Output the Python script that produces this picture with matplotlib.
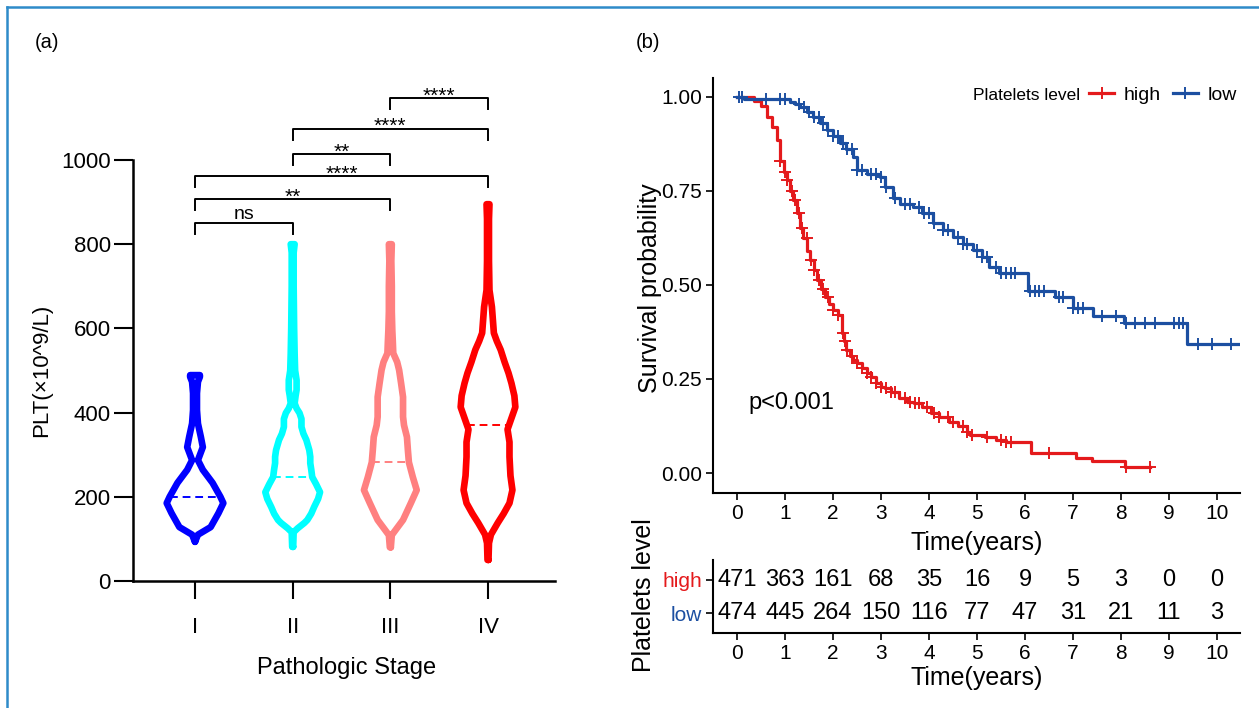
import numpy as np
import matplotlib
matplotlib.use('Agg')
import matplotlib.pyplot as plt
from matplotlib.lines import Line2D

plt.rcParams['font.family'] = ['Liberation Sans', 'DejaVu Sans']

# ---- panel (a): violin outlines (value, half width)
stages = ['I', 'II', 'III', 'IV']
stage_colors = ['#0000FF', '#00FFFF', '#FF8080', '#FF0000']

v1_y = [93, 110, 128, 161, 185, 200, 233, 264, 287, 318, 342, 374, 406, 446, 473, 485, 489]
v1_w = [0.0, 0.03, 0.16, 0.24, 0.29, 0.26, 0.18, 0.08, 0.03, 0.08, 0.06, 0.03, 0.02, 0.02, 0.03, 0.05, 0.05]
v2_y = [81, 116, 125, 138, 145, 160, 176, 195, 211, 230, 247, 265, 280, 295, 311, 335, 350, 366,
        385, 399, 410, 422, 440, 454, 477, 500, 540, 600, 700, 780, 800]
v2_w = [0.005, 0.01, 0.05, 0.12, 0.15, 0.19, 0.22, 0.26, 0.28, 0.24, 0.20, 0.19, 0.18, 0.18, 0.17,
        0.14, 0.11, 0.09, 0.09, 0.07, 0.04, 0.02, 0.03, 0.04, 0.04, 0.025, 0.02, 0.015, 0.01, 0.01, 0.02]
v3_y = [80, 109, 120, 145, 185, 216, 247, 282, 310, 342, 370, 390, 415, 437, 470, 501, 520, 541,
        570, 596, 640, 700, 760, 800]
v3_w = [0.005, 0.015, 0.05, 0.13, 0.21, 0.27, 0.23, 0.19, 0.18, 0.17, 0.14, 0.13, 0.13, 0.13, 0.11,
        0.09, 0.07, 0.03, 0.025, 0.02, 0.015, 0.015, 0.01, 0.015]
v4_y = [50, 90, 110, 138, 160, 185, 216, 250, 295, 330, 360, 380, 413, 440, 470, 494, 520, 549,
        570, 589, 620, 651, 691, 760, 860, 895]
v4_w = [0.005, 0.01, 0.03, 0.10, 0.16, 0.22, 0.25, 0.23, 0.22, 0.22, 0.20, 0.23, 0.28, 0.27, 0.24,
        0.21, 0.17, 0.13, 0.09, 0.06, 0.05, 0.04, 0.015, 0.01, 0.01, 0.015]
medians = [200, 247, 282, 371]

# pairwise comparisons: (group a, group b, label, bracket height)
comparisons = [(1, 2, 'ns', 850), (1, 3, '**', 907), (1, 4, '****', 962),
               (2, 3, '**', 1014), (2, 4, '****', 1074), (3, 4, '****', 1147)]

# ---- panel (b): Kaplan-Meier steps
high_t = [0, 0.35, 0.5, 0.62, 0.73, 0.83, 0.9, 0.97, 1.04, 1.1, 1.17, 1.24, 1.31, 1.38, 1.46, 1.52,
          1.6, 1.67, 1.75, 1.83, 1.92, 2.0, 2.1, 2.19, 2.23, 2.27, 2.35, 2.42, 2.5, 2.6, 2.7, 2.79,
          2.9, 3.0, 3.08, 3.2, 3.38, 3.55, 3.69, 3.85, 4.04, 4.2, 4.42, 4.6, 4.79, 4.85, 5.17, 5.4,
          5.6, 6.13, 7.06, 7.4, 8.08, 8.6]
high_s = [1.0, 0.99, 0.975, 0.947, 0.92, 0.886, 0.83, 0.8, 0.78, 0.75, 0.726, 0.69, 0.65, 0.625,
          0.59, 0.566, 0.54, 0.513, 0.49, 0.468, 0.45, 0.434, 0.42, 0.372, 0.35, 0.327, 0.31, 0.3,
          0.293, 0.28, 0.265, 0.255, 0.24, 0.23, 0.226, 0.215, 0.2, 0.19, 0.186, 0.175, 0.16, 0.15,
          0.136, 0.125, 0.11, 0.1, 0.096, 0.088, 0.082, 0.053, 0.04, 0.032, 0.016, 0.016]
low_t = [0, 0.15, 1.1, 1.2, 1.31, 1.45, 1.58, 1.72, 1.88, 2.0, 2.15, 2.28, 2.42, 2.5, 2.7, 2.98,
         3.08, 3.25, 3.4, 3.67, 3.85, 4.08, 4.3, 4.5, 4.7, 4.92, 5.1, 5.25, 5.46, 6.06, 6.63, 7.0,
         7.42, 8.06, 9.38, 10.45]
low_s = [1.0, 0.995, 0.985, 0.98, 0.973, 0.96, 0.947, 0.93, 0.912, 0.895, 0.878, 0.86, 0.84, 0.806,
         0.795, 0.787, 0.76, 0.73, 0.715, 0.707, 0.69, 0.665, 0.645, 0.628, 0.61, 0.593, 0.575,
         0.548, 0.532, 0.484, 0.468, 0.44, 0.418, 0.4, 0.343, 0.343]
high_cens = [0.9, 1.0, 1.05, 1.15, 1.2, 1.3, 1.35, 1.45, 1.55, 1.6, 1.7, 1.8, 1.9, 2.0, 2.1, 2.2,
             2.25, 2.3, 2.4, 2.5, 2.6, 2.7, 2.8, 2.9, 3.0, 3.1, 3.2, 3.3, 3.5, 3.6, 3.7, 3.8, 3.95,
             4.1, 4.2, 4.4, 4.5, 4.7, 4.8, 4.9, 5.2, 5.5, 5.6, 5.7, 6.5, 8.1, 8.6]
low_cens = [0.05, 0.1, 0.6, 0.9, 1.0, 1.3, 1.4, 1.5, 1.6, 1.7, 1.8, 1.9, 2.0, 2.1, 2.2, 2.3, 2.4,
            2.5, 2.6, 2.8, 2.9, 3.0, 3.1, 3.3, 3.5, 3.6, 3.8, 3.9, 4.0, 4.1, 4.3, 4.4, 4.6, 4.7,
            4.8, 5.0, 5.1, 5.2, 5.4, 5.5, 5.6, 5.7, 5.8, 6.1, 6.2, 6.3, 6.4, 6.7, 6.8, 7.0, 7.1,
            7.2, 7.6, 7.9, 8.1, 8.3, 8.5, 8.7, 9.1, 9.2, 9.3, 9.6, 9.9, 10.3]
risk_times = list(range(11))
high_risk = [471, 363, 161, 68, 35, 16, 9, 5, 3, 0, 0]
low_risk = [474, 445, 264, 150, 116, 77, 47, 31, 21, 11, 3]
km_red = '#E41A1C'
km_blue = '#1C4FA1'

W, H = 1259, 708
fig = plt.figure(figsize=(W / 100, H / 100), dpi=100)


def fx(px):
    return px / W


def fy(py):
    return 1 - py / H


# frame lines (top and left only are visible in the picture)
fig.add_artist(Line2D([fx(7), 1.0], [fy(7), fy(7)], transform=fig.transFigure,
                      color='#2E8BC9', lw=1.8))
fig.add_artist(Line2D([fx(7), fx(7)], [0.0, fy(7)], transform=fig.transFigure,
                      color='#2E8BC9', lw=1.8))

# ================= (a) =================
ax1 = fig.add_axes([fx(133), fy(581), fx(555) - fx(133), fy(160) - fy(581)])
ax1.set_xlim(0.365, 4.686)
ax1.set_ylim(0, 1000)
profiles = [(v1_y, v1_w), (v2_y, v2_w), (v3_y, v3_w), (v4_y, v4_w)]
for pos, (ys, ws), col, med in zip(range(1, 5), profiles, stage_colors, medians):
    ys = np.array(ys, float)
    ws = np.array(ws, float)
    xs = np.concatenate([pos + ws, (pos - ws)[::-1], [pos + ws[0]]])
    yy = np.concatenate([ys, ys[::-1], [ys[0]]])
    ax1.plot(xs, yy, color=col, lw=4.8, solid_joinstyle='round', solid_capstyle='round', zorder=3)
    mw = np.interp(med, ys, ws)
    ax1.plot([pos - mw, pos + mw], [med, med], color=col, lw=1.4, ls=(0, (4, 2.5)), zorder=2)

for a, b, lab, h in comparisons:
    ax1.plot([a, a, b, b], [h - 26, h, h, h - 26], color='black', lw=1.4, clip_on=False)
    if lab == 'ns':
        ax1.text((a + b) / 2, h + 11, lab, ha='center', va='baseline', fontsize=14)
    else:
        ax1.text((a + b) / 2, h - 8, lab, ha='center', va='baseline', fontsize=15)

for s in ['top', 'right']:
    ax1.spines[s].set_visible(False)
for s in ['left', 'bottom']:
    ax1.spines[s].set_linewidth(1.8)
ax1.set_yticks([0, 200, 400, 600, 800, 1000])
ax1.set_xticks([1, 2, 3, 4])
ax1.set_xticklabels(stages)
ax1.tick_params(axis='y', length=14, width=1.5, labelsize=16, pad=2)
ax1.tick_params(axis='x', length=13, width=1.5, labelsize=16, pad=13)
ax1.set_xlabel('Pathologic Stage', fontsize=17)
ax1.xaxis.label.set_va('center')
ax1.xaxis.set_label_coords(0.507, -0.207)
ax1.set_ylabel('PLT(×10^9/L)', fontsize=16)
ax1.yaxis.label.set_va('center')
ax1.yaxis.set_label_coords(-0.216, 0.5)

fig.text(fx(35), fy(42), '(a)', fontsize=14.5, va='center')
fig.text(fx(636), fy(42), '(b)', fontsize=14.5, va='center')

# ================= (b) KM =================
ax2 = fig.add_axes([fx(713), fy(493), fx(1240) - fx(713), fy(78) - fy(493)])
ax2.set_xlim(-0.5, 10.48)
ax2.set_ylim(-0.053, 1.05)
for t, s, c, cens in [(high_t, high_s, km_red, high_cens), (low_t, low_s, km_blue, low_cens)]:
    ax2.step(t, s, where='post', color=c, lw=2.3)
    t_arr = np.array(t)
    s_arr = np.array(s)
    idx = np.searchsorted(t_arr, np.array(cens), side='right') - 1
    ax2.plot(cens, s_arr[idx], ls='none', marker='+', ms=9, mew=1.4, color=c)

for s in ['top', 'right']:
    ax2.spines[s].set_visible(False)
for s in ['left', 'bottom']:
    ax2.spines[s].set_linewidth(1.5)
ax2.set_xticks(risk_times)
ax2.set_yticks([0, 0.25, 0.5, 0.75, 1.0])
ax2.set_yticklabels(['0.00', '0.25', '0.50', '0.75', '1.00'])
ax2.tick_params(length=5, width=1.2, labelsize=15, pad=3)
ax2.set_xlabel('Time(years)', fontsize=18)
ax2.xaxis.label.set_va('center')
ax2.xaxis.set_label_coords(0.501, -0.12)
ax2.set_ylabel('Survival probability', fontsize=18)
ax2.yaxis.label.set_va('center')
ax2.yaxis.set_label_coords(-0.12, 0.494)
ax2.text(0.23, 0.186, 'p<0.001', fontsize=17, va='center', ha='left')

fig.text(fx(1080), fy(95), 'Platelets level', fontsize=12.5, ha='right', va='center')
handles = [Line2D([], [], color=km_red, lw=2.3, marker='+', ms=9, mew=1.4),
           Line2D([], [], color=km_blue, lw=2.3, marker='+', ms=9, mew=1.4)]
ax2.legend(handles, ['high', 'low'], ncol=2, loc='center left', frameon=False,
           bbox_to_anchor=(fx(1089), fy(95)), bbox_transform=fig.transFigure,
           fontsize=14, handlelength=1.3, columnspacing=0.6, handletextpad=0.5,
           borderaxespad=0, borderpad=0)

# ================= risk table =================
ax3 = fig.add_axes([fx(713), fy(633), fx(1240) - fx(713), fy(560) - fy(633)])
ax3.set_xlim(-0.5, 10.48)
ax3.set_ylim(0.4, 2.6)
for t, hv, lv in zip(risk_times, high_risk, low_risk):
    ax3.text(t, 2, str(hv), ha='center', va='center', fontsize=17)
    ax3.text(t, 1, str(lv), ha='center', va='center', fontsize=17)
for s in ['top', 'right']:
    ax3.spines[s].set_visible(False)
for s in ['left', 'bottom']:
    ax3.spines[s].set_linewidth(1.5)
ax3.set_xticks(risk_times)
ax3.set_yticks([1, 2])
ax3.set_yticklabels(['low', 'high'])
for lbl, c in zip(ax3.get_yticklabels(), [km_blue, km_red]):
    lbl.set_color(c)
ax3.tick_params(length=5, width=1.2, labelsize=15, pad=3)
ax3.set_xlabel('Time(years)', fontsize=18)
ax3.xaxis.label.set_va('center')
ax3.xaxis.set_label_coords(0.501, -0.616)
ax3.set_ylabel('Platelets level', fontsize=18)
ax3.yaxis.label.set_va('center')
ax3.yaxis.set_label_coords(-0.131, 0.52)

fig.savefig('out.png', dpi=100)
